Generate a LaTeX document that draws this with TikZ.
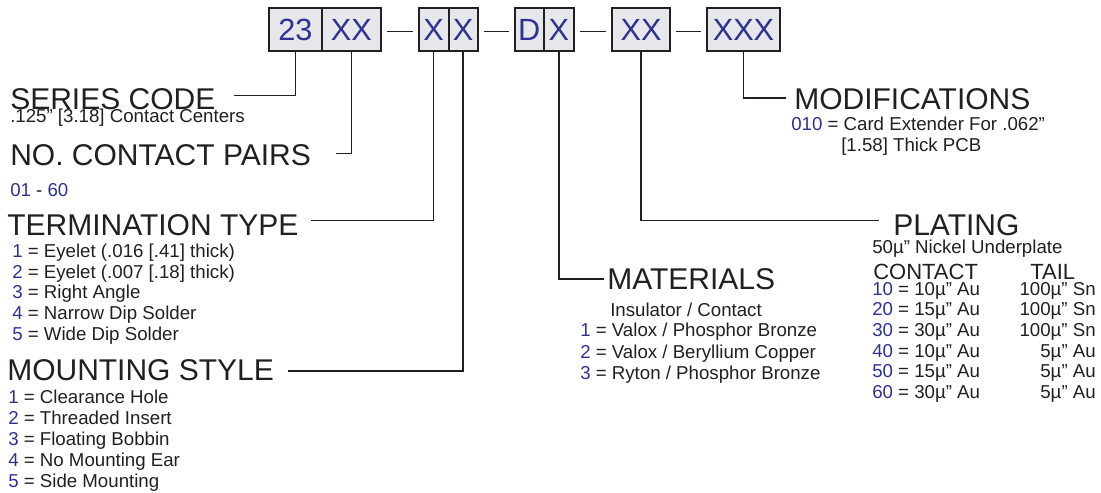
\documentclass[tikz,border=0pt]{standalone}
\usepackage{fontspec}
\setmainfont{Liberation Sans}
\usetikzlibrary{calc}

\definecolor{codeblue}{HTML}{2E3192}
\definecolor{ink}{HTML}{231F20}
\definecolor{boxgray}{HTML}{E6E7EB}
\newcommand{\optno}[1]{\textcolor{codeblue}{#1}}

\begin{document}
\begin{tikzpicture}[
  x=0.75pt, y=-0.75pt,
  part/.style={rectangle, draw=ink, fill=boxgray, line width=1.5pt,
    minimum height=32pt, inner sep=0pt, text=codeblue,
    font=\fontsize{23}{23}\selectfont},
  lead/.style={draw=ink, line width=1.1pt},
  head/.style={anchor=base west, inner sep=0pt, text=ink,
    font=\fontsize{22.5}{26}\selectfont},
  note/.style={anchor=base west, inner sep=0pt, text=ink,
    font=\fontsize{14}{16}\selectfont},
  colhead/.style={anchor=base west, inner sep=0pt, text=ink,
    font=\fontsize{16.5}{20}\selectfont},
]
\useasboundingbox (0,0) rectangle (1101,493);

% Part number boxes
\node[part, minimum width=39.75pt] (p23) at (295.5,29.75) {23};
\node[part, minimum width=44pt] (pXX) at (351.3,29.75) {XX};
\node[part, minimum width=22.5pt] (pT) at (433.6,29.75) {X};
\node[part, minimum width=22pt] (pM) at (463.2,29.75) {X};
\node[part, minimum width=22pt] (pD) at (529.2,29.75) {D};
\node[part, minimum width=22.5pt] (pMat) at (558.8,29.75) {X};
\node[part, minimum width=44pt] (pPl) at (641,29.75) {XX};
\node[part, minimum width=54.75pt] (pMod) at (743.5,29.75) {XXX};

% Dashes between groups
\draw[lead] ($(pXX.east)+(5,2)$) -- ($(pT.west)+(-5,2)$);
\draw[lead] ($(pM.east)+(5,2)$) -- ($(pD.west)+(-5,2)$);
\draw[lead] ($(pMat.east)+(5,2)$) -- ($(pPl.west)+(-5,2)$);
\draw[lead] ($(pPl.east)+(5,2)$) -- ($(pMod.west)+(-5,2)$);

% Left column
\node[head] (series) at (10,109) {SERIES CODE};
\node[note] (centers) at (10,122.3) {.125” [3.18] Contact Centers};
\node[head] (pairs) at (10,165) {NO. CONTACT PAIRS};
\node[note] (range) at (10,196) {\optno{01} - \optno{60}};

\node[head] (term) at (7,235) {TERMINATION TYPE};
\foreach \n/\t [count=\i from 0] in {1/Eyelet (.016 [.41] thick),
    2/Eyelet (.007 [.18] thick), 3/Right Angle, 4/Narrow Dip Solder,
    5/Wide Dip Solder}
  \node[note] (term\n) at (12,257.3+20.8*\i) {\optno{\n} = \t};

\node[head] (mount) at (7,380) {MOUNTING STYLE};
\foreach \n/\t [count=\i from 0] in {1/Clearance Hole, 2/Threaded Insert,
    3/Floating Bobbin, 4/No Mounting Ear, 5/Side Mounting}
  \node[note] (mount\n) at (8,403.3+21*\i) {\optno{\n} = \t};

% Materials
\node[head] (mater) at (607,289.3) {MATERIALS};
\node[note] (insul) at (610,316) {Insulator / Contact};
\foreach \n/\t [count=\i from 0] in {1/{Valox / Phosphor Bronze},
    2/{Valox / Beryllium Copper}, 3/{Ryton / Phosphor Bronze}}
  \node[note] (mater\n) at (580,336.7+21.3*\i) {\optno{\n} = \t};

% Modifications
\node[head] (modif) at (794,109.3) {MODIFICATIONS};
\node[note] (modif1) at (791,130) {\optno{010} = Card Extender For .062”};
\node[note] (modif2) at (841,151.7) {[1.58] Thick PCB};

% Plating
\node[head] (plat) at (893,235) {PLATING};
\node[note] (nickel) at (872,253.3) {50µ” Nickel Underplate};
\node[colhead] (contact) at (873,279.3) {CONTACT};
\node[colhead] (tail) at (1030,279.3) {TAIL};
\foreach \n/\c/\t [count=\i from 0] in {10/10/100µ” Sn, 20/15/100µ” Sn,
    30/30/100µ” Sn, 40/10/5µ” Au, 50/15/5µ” Au, 60/30/5µ” Au} {
  \node[note] (plc\n) at (872,295+20.7*\i) {\optno{\n} = \c µ” Au};
  \node[note, anchor=base east] (plt\n) at (1096,295+20.7*\i) {\t};
}

% Leader lines
\draw[lead] (p23.south) |- ($(series.east)+(18,-3)$);
\draw[lead] (pXX.south) |- ($(pairs.east)+(25,-1)$);
\draw[lead] (pT.south) |- ($(term.east)+(12,-4)$);
\draw[lead] (pM.south) |- ($(mount.east)+(14,1.5)$);
\draw[lead] (pMat.south) |- ($(mater.west)+(-3,0)$);
\draw[lead] (pPl.south) |- ($(plat.west)+(-14,-4)$);
\draw[lead] (pMod.south) |- ($(modif.west)+(-8,-1)$);
\end{tikzpicture}
\end{document}
